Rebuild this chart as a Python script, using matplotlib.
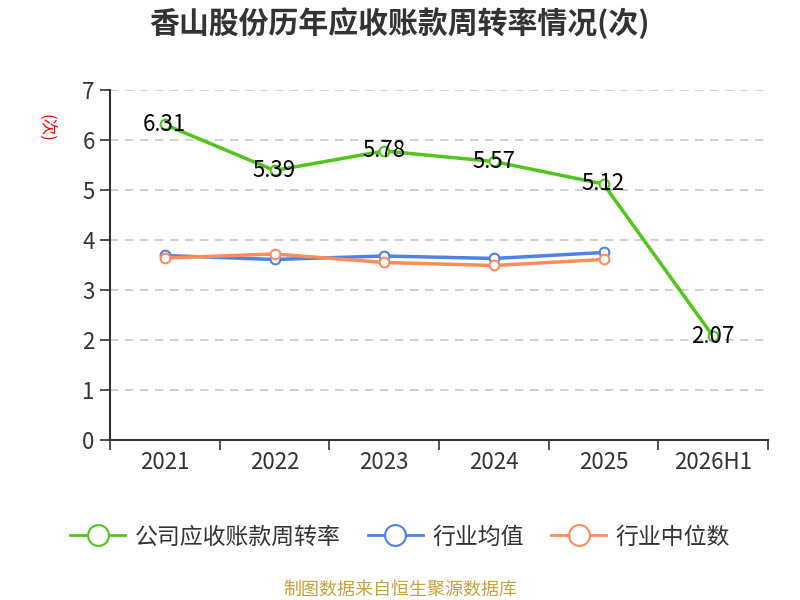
import matplotlib.pyplot as plt
import numpy as np

plt.rcParams['font.family'] = ['Noto Sans CJK SC', 'DejaVu Sans']

years = ['2021', '2022', '2023', '2024', '2025', '2026H1']
turnover = [6.31, 5.39, 5.78, 5.57, 5.12, 2.07]
ind_mean = [3.69, 3.61, 3.68, 3.63, 3.75]
ind_median = [3.64, 3.72, 3.55, 3.49, 3.61]

GREEN = '#52c41a'
BLUE = '#4f81e6'
ORANGE = '#ff8c5a'

fig = plt.figure(figsize=(8, 6), dpi=100)
ax = fig.add_axes([0.1375, 0.2667, 0.8225, 0.5833])

x = np.arange(len(years))
ax.plot(x[:5], ind_mean, color=BLUE, lw=2.5, marker='o', ms=7,
        mfc='white', mec=BLUE, mew=1.5, zorder=3)
ax.plot(x[:5], ind_median, color=ORANGE, lw=2.5, marker='o', ms=7,
        mfc='white', mec=ORANGE, mew=1.5, zorder=3)
ax.plot(x, turnover, color=GREEN, lw=2.5, marker='o', ms=7,
        mfc='white', mec=GREEN, mew=1.5, zorder=4)
for xi, v in zip(x, turnover):
    ax.text(xi, v, f'{v:.2f}', ha='center', va='center', fontsize=16,
            color='black', zorder=5)

ax.set_xlim(-0.5, len(years) - 0.5)
ax.set_ylim(0, 7)
ax.set_yticks(range(8))
ax.set_xticks(x)
ax.set_xticklabels(years)
ax.set_xticks(np.arange(-0.5, len(years)), minor=True)
ax.tick_params(axis='x', which='major', length=0, labelsize=16, colors='#333333', pad=8)
ax.tick_params(axis='x', which='minor', length=7, width=1.2, color='#333333')
ax.tick_params(axis='y', length=7, width=1.2, labelsize=16, colors='#333333', pad=4)
ax.grid(axis='y', linestyle=(0, (5, 4)), color='#c8c8c8', lw=1.2)
ax.set_axisbelow(True)
for s in ['top', 'right']:
    ax.spines[s].set_visible(False)
for s in ['left', 'bottom']:
    ax.spines[s].set_color('#333333')
    ax.spines[s].set_linewidth(1.5)

fig.text(0.057, 0.787, '(次)', color='red', fontsize=12, rotation=-90,
         ha='center', va='center')

fig.text(0.5, 0.962, '香山股份历年应收账款周转率情况(次)', ha='center', va='center',
         fontsize=21.5, fontweight='bold', color='#333333')

handles = [
    plt.Line2D([], [], color=GREEN, lw=2, marker='o', ms=15, mfc='white', mec=GREEN, mew=1.5),
    plt.Line2D([], [], color=BLUE, lw=2, marker='o', ms=15, mfc='white', mec=BLUE, mew=1.5),
    plt.Line2D([], [], color=ORANGE, lw=2, marker='o', ms=15, mfc='white', mec=ORANGE, mew=1.5),
]
fig.legend(handles, ['公司应收账款周转率', '行业均值', '行业中位数'], loc='center',
           bbox_to_anchor=(0.5, 0.105), ncol=3, frameon=False, fontsize=16.5,
           handlelength=2.4, columnspacing=1.2, handletextpad=0.4,
           labelcolor='#333333')

fig.text(0.5, 0.017, '制图数据来自恒生聚源数据库', ha='center', va='center',
         fontsize=13, color='#c9a13a')

fig.savefig('out.png', dpi=100)
